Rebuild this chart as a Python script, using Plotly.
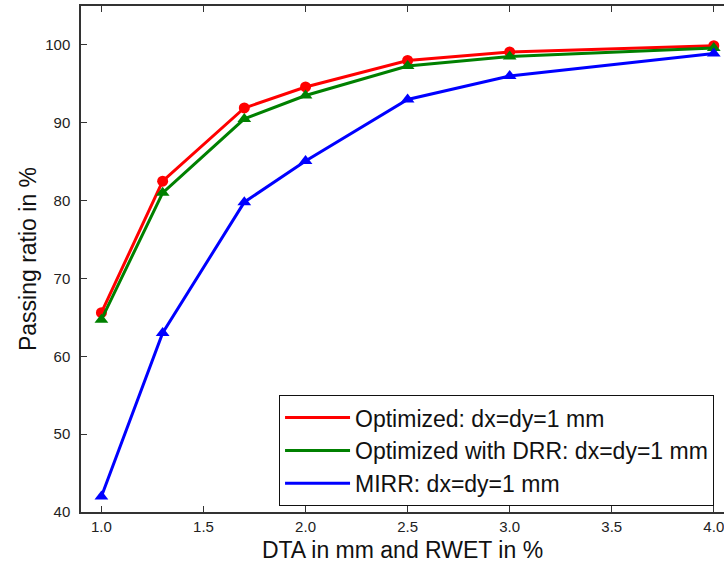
import plotly.graph_objects as go

# Passing ratio vs. DTA / RWET criterion
criterion = [1.0, 1.3, 1.7, 2.0, 2.5, 3.0, 4.0]
optimized = [65.6, 82.5, 91.9, 94.6, 98.0, 99.1, 99.9]
optimized_drr = [64.7, 81.0, 90.5, 93.5, 97.3, 98.5, 99.6]
mirr = [42.0, 63.0, 79.8, 85.1, 93.0, 96.0, 98.9]

x_ticks = [1.0, 1.5, 2.0, 2.5, 3.0, 3.5, 4.0]
y_ticks = [40, 50, 60, 70, 80, 90, 100]

series = [
    ("Optimized: dx=dy=1 mm", optimized, "#ff0000", "circle", 11),
    ("Optimized with DRR: dx=dy=1 mm", optimized_drr, "#008000", "triangle-up", 12),
    ("MIRR: dx=dy=1 mm", mirr, "#0000ff", "triangle-up", 12),
]

fig = go.Figure()
for name, vals, color, symbol, msize in series:
    # line for the legend entry, markers drawn separately
    fig.add_trace(go.Scatter(
        x=criterion, y=vals, mode="lines", name=name,
        line=dict(color=color, width=3), legendgroup=name,
    ))
    fig.add_trace(go.Scatter(
        x=criterion, y=vals, mode="markers", showlegend=False,
        marker=dict(color=color, symbol=symbol, size=msize, line=dict(width=0)),
        legendgroup=name,
    ))

axis_common = dict(
    showgrid=False, zeroline=False, showline=True,
    linecolor="#333333", linewidth=1.5,
    ticks="inside", ticklen=6, tickcolor="#333333", tickwidth=1,
    tickfont=dict(family="Liberation Sans", size=15, color="#222222"),
    ticklabeloverflow="allow",
)

fig.update_xaxes(
    range=[0.9, 4.05], tickvals=x_ticks, ticktext=[f"{v:.1f}" for v in x_ticks],
    mirror="ticks",
    title=dict(text="DTA in mm and RWET in %", standoff=8,
               font=dict(family="Liberation Sans", size=23, color="#111111")),
    **axis_common,
)
fig.update_yaxes(
    range=[40, 105], tickvals=y_ticks, ticklabelstandoff=6,
    title=dict(text="Passing ratio in %", standoff=2,
               font=dict(family="Liberation Sans", size=23, color="#111111")),
    **axis_common,
)

fig.update_layout(
    width=724, height=565,
    margin=dict(l=81, r=0, t=6, b=53),
    paper_bgcolor="white", plot_bgcolor="white",
    showlegend=True,
    legend=dict(
        x=0.308, y=0.231, xanchor="left", yanchor="top",
        bgcolor="white", bordercolor="#111111", borderwidth=1,
        font=dict(family="Liberation Sans", size=23, color="#111111"),
        tracegroupgap=0, itemwidth=65,
    ),
)

fig.write_html("out.html")
